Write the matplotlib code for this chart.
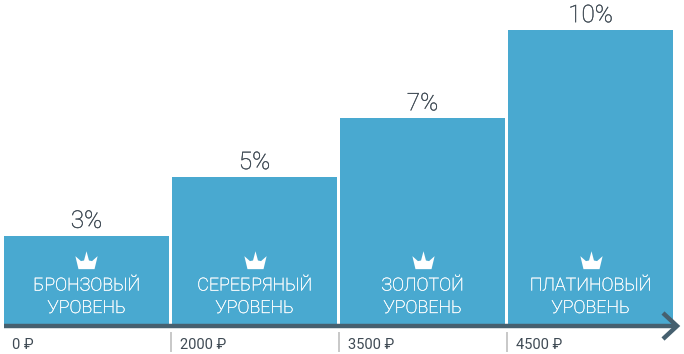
import matplotlib
matplotlib.use("Agg")
import matplotlib.patheffects as pe
import matplotlib.pyplot as plt
from matplotlib.path import Path
from matplotlib.transforms import ScaledTranslation

plt.rcParams["font.family"] = ["Roboto", "DejaVu Sans"]

levels = ["БРОНЗОВЫЙ\nУРОВЕНЬ", "СЕРЕБРЯНЫЙ\nУРОВЕНЬ", "ЗОЛОТОЙ\nУРОВЕНЬ", "ПЛАТИНОВЫЙ\nУРОВЕНЬ"]
percents = [3, 5, 7, 10]
thresholds = ["0 ₽", "2000 ₽", "3500 ₽", "4500 ₽"]

BLUE = "#49a9d0"
DARK = "#46606f"
TEXT = "#3f4a54"

# crown shape for the marker
crown = Path(
    [(-6.5, -7), (-9, 3.5), (-4.5, -0.5), (-2, 0), (0, 7.5), (2, 0), (4.5, -0.5), (9, 3.5), (6.5, -7), (-6.5, -7)],
    closed=False,
)


def main():
    fig = plt.figure(figsize=(6.84, 3.54), dpi=100)
    ax = fig.add_axes([0, 0, 1, 1])
    ax.set_xlim(-86.5 / 168, (684 - 86.5) / 168)
    ax.set_ylim(-30 / 29.38, 324 / 29.38)
    ax.axis("off")

    x = range(len(percents))
    ax.bar(x, percents, width=165 / 168, color=BLUE, linewidth=0)

    # the light weight renders thinner than in the original, thicken it a little
    thicker = [pe.withStroke(linewidth=0.25, foreground="white")]
    thicker_dark = [pe.withStroke(linewidth=0.25, foreground=TEXT)]
    crown_shift = ax.transData + ScaledTranslation(0, 64 / 100, fig.dpi_scale_trans)
    for i, p in zip(x, percents):
        ax.annotate(f"{p}%", (i, p), xytext=(0, 3), textcoords="offset pixels",
                    ha="center", va="bottom", fontsize=17.5, weight="light", color=TEXT,
                    path_effects=thicker_dark)
        ax.annotate(levels[i], (i, 0), xytext=(0, 7), textcoords="offset pixels",
                    ha="center", va="bottom", fontsize=12.9, weight="light", color="white",
                    linespacing=1.32, path_effects=thicker)
        ax.annotate(thresholds[i], (i - 0.5, 0), xytext=(10, -25), textcoords="offset pixels",
                    ha="left", va="baseline", fontsize=10.5, color=TEXT)
        ax.plot([i], [0], marker=crown, markersize=16, color="white", linewidth=0,
                markeredgewidth=0, transform=crown_shift)
        if i > 0:
            ax.plot([i - 0.5, i - 0.5], [-9 / 29.38, -27 / 29.38], color="#c8c8c8", linewidth=1.4)

    # axis line with chevron arrow
    ax.plot([-86.5 / 168 + 4 / 168, (676 - 86.5) / 168], [-2 / 29.38, -2 / 29.38], color=DARK, linewidth=3.2, solid_capstyle="butt")
    tip_x = (677 - 86.5) / 168
    ax.plot([tip_x - 14 / 168, tip_x, tip_x - 14 / 168], [11 / 29.38, -2 / 29.38, -15 / 29.38],
            color=DARK, linewidth=3.2, solid_joinstyle="miter", solid_capstyle="butt")

    fig.savefig("out.png", dpi=100)


if __name__ == "__main__":
    main()
